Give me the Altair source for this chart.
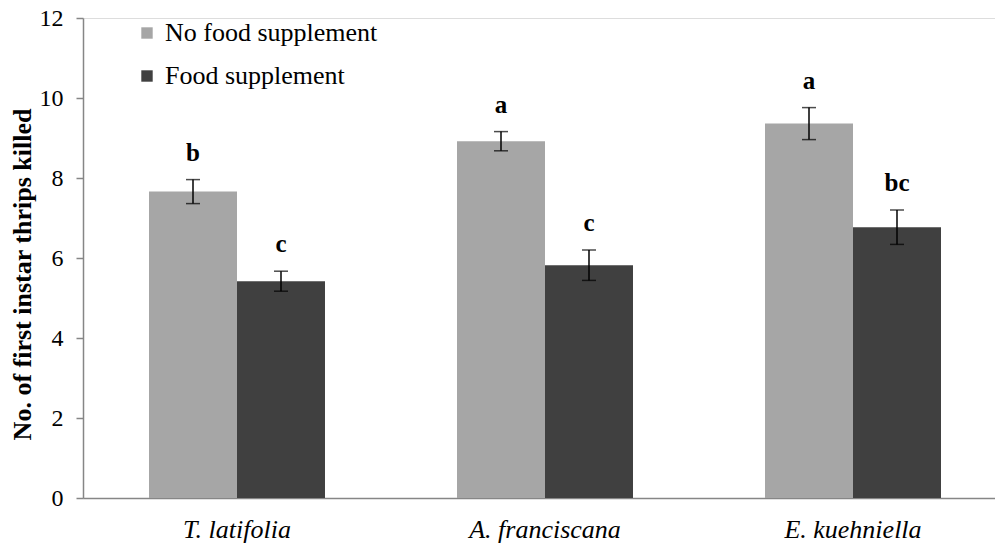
import altair as alt
import pandas as pd

categories = ["T. latifolia", "A. franciscana", "E. kuehniella"]
treatments = ["No food supplement", "Food supplement"]
no_food_mean = [7.66, 8.92, 9.36]
no_food_se = [0.30, 0.24, 0.40]
food_mean = [5.42, 5.82, 6.77]
food_se = [0.25, 0.38, 0.43]
no_food_letters = ["b", "a", "a"]
food_letters = ["c", "c", "bc"]
colors = ["#A6A6A6", "#404040"]
y_ticks = [0, 2, 4, 6, 8, 10, 12]
y_title = "No. of first instar thrips killed"

rows = []
for i, c in enumerate(categories):
    rows.append(dict(species=c, treatment=treatments[0], mean=no_food_mean[i],
                     se=no_food_se[i], letter=no_food_letters[i]))
    rows.append(dict(species=c, treatment=treatments[1], mean=food_mean[i],
                     se=food_se[i], letter=food_letters[i]))
df = pd.DataFrame(rows)

FONT = "Liberation Serif"
AXIS_GREY = "#868686"

x = alt.X(
    "species:N", sort=categories,
    scale=alt.Scale(range=[0, 924], paddingInner=0.4286, paddingOuter=0.2143),
    axis=alt.Axis(title=None, labelFont=FONT, labelFontSize=26, labelFontStyle="italic",
                  labelColor="black", labelAngle=0, ticks=False, tickSize=0,
                  labelPadding=18, domainColor=AXIS_GREY, domainWidth=1.5),
)
xoff = alt.XOffset("treatment:N", sort=treatments)

yscale = alt.Scale(domain=[0, 12])
yaxis = alt.Axis(values=y_ticks, grid=False,
                 labelFont=FONT, labelFontSize=24, labelColor="black", labelPadding=13,
                 tickSize=7, tickColor=AXIS_GREY, tickWidth=1.5,
                 domainColor=AXIS_GREY, domainWidth=1.5,
                 titleFont=FONT, titleFontSize=26, titleFontWeight="bold", titleColor="black",
                 titleAngle=270, titleX=-61, titleY=256, titleAlign="center",
                 titleBaseline="middle")

base = alt.Chart(df).transform_calculate(
    lower="datum.mean - datum.se", upper="datum.mean + datum.se"
).encode(x=x, xOffset=xoff)

bars = base.mark_bar().encode(
    y=alt.Y("mean:Q", scale=yscale, axis=yaxis, title=y_title),
    color=alt.Color("treatment:N", sort=treatments,
                    scale=alt.Scale(domain=treatments, range=colors),
                    legend=alt.Legend(title=None, orient="none", legendX=51, legendY=2,
                                      symbolType="square", symbolSize=130, symbolStrokeWidth=0,
                                      labelFont=FONT, labelFontSize=26, labelColor="black",
                                      labelLimit=0, labelOffset=5, rowPadding=17, padding=0)),
)

rules = base.mark_rule(color="black", strokeWidth=1.5).encode(
    y=alt.Y("lower:Q", scale=yscale, title=y_title), y2="upper:Q")
cap_top = base.mark_tick(color="black", size=14, thickness=1.5).encode(
    y=alt.Y("upper:Q", scale=yscale, title=y_title))
cap_bot = base.mark_tick(color="black", size=14, thickness=1.5).encode(
    y=alt.Y("lower:Q", scale=yscale, title=y_title))
letters = base.mark_text(font=FONT, fontSize=25, fontWeight="bold", baseline="alphabetic",
                         dy=-19, color="black").encode(
    y=alt.Y("upper:Q", scale=yscale, title=y_title), text="letter:N")

chart = alt.layer(bars, rules, cap_top, cap_bot, letters).properties(
    width=912, height=480,
    autosize=alt.AutoSizeParams(type="none"),
    padding={"left": 83, "top": 18, "right": 0, "bottom": 46},
).configure_view(stroke=None).configure(background="white")

chart.save("out.html", embed_options={"renderer": "svg", "actions": False})
